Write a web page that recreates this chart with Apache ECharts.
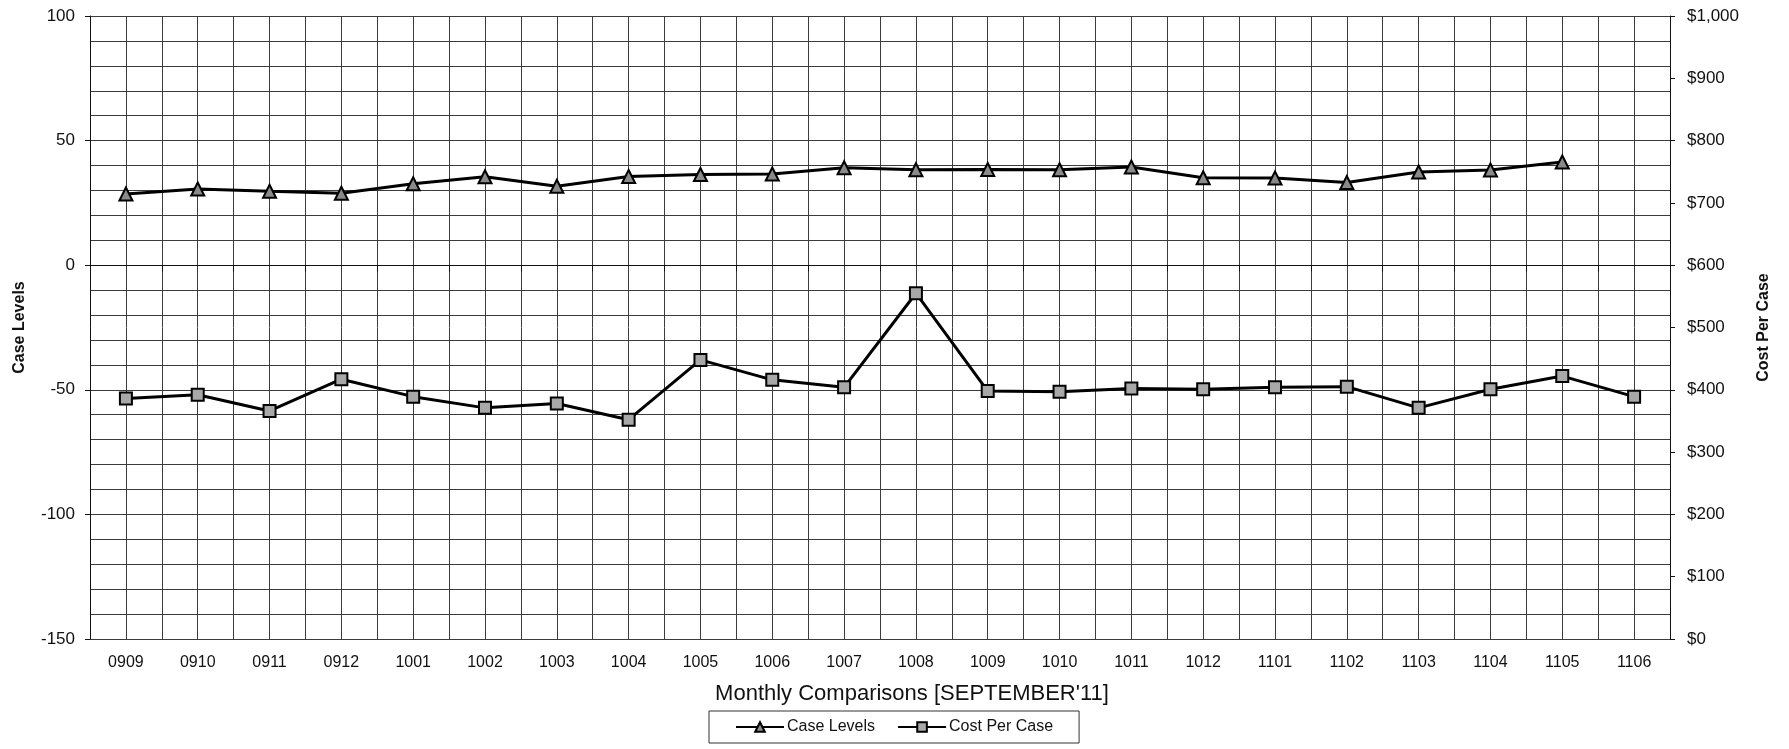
<!DOCTYPE html>
<html>
<head>
<meta charset="utf-8">
<script src="https://cdn.jsdelivr.net/npm/echarts@6/dist/echarts.min.js"></script>
<style>
html,body{margin:0;padding:0;background:#fff;}
#chart{width:1789px;height:749px;}
</style>
</head>
<body>
<div id="chart"></div>
<script>
var categories = ['0909','0910','0911','0912','1001','1002','1003','1004','1005','1006','1007','1008','1009','1010','1011','1012','1101','1102','1103','1104','1105','1106'];
var caseLevels = [28.6, 30.6, 29.7, 28.9, 32.7, 35.5, 31.7, 35.6, 36.4, 36.6, 39.1, 38.3, 38.4, 38.3, 39.4, 35.1, 35.0, 33.2, 37.4, 38.2, 41.4, null];
var costPerCase = [386, 392, 366, 417, 389, 371, 378, 352, 448, 416, 404, 555, 398, 397, 402, 401, 404, 405, 371, 401, 422, 389];
var leftTicks = {min: -150, max: 100, interval: 50};
var rightTicks = {min: 0, max: 1000, interval: 100};
var xTitle = "Monthly Comparisons [SEPTEMBER'11]";

var FONT = '"Liberation Sans", Arial, sans-serif';
var gridColor = '#3c3c3c';
var chart = echarts.init(document.getElementById('chart'));
chart.setOption({
  animation: false,
  backgroundColor: '#fff',
  textStyle: {fontFamily: FONT, color: '#111'},
  grid: {left: 90, right: 119, top: 16, bottom: 110, containLabel: false},
  legend: {
    left: 709, top: 711,
    padding: [8, 26, 8, 26],
    itemGap: 22, itemWidth: 48, itemHeight: 12,
    borderColor: '#333', borderWidth: 1,
    textStyle: {fontFamily: FONT, fontSize: 16, color: '#111', padding: [0, 0, 0, -2]},
    data: ['Case Levels', 'Cost Per Case']
  },
  graphic: [{
    type: 'text', x: 912, y: 694,
    style: {text: xTitle, font: '22px ' + FONT, fill: '#111', textAlign: 'center', textVerticalAlign: 'middle'}
  }],
  xAxis: [{
    type: 'category', data: categories, boundaryGap: true,
    axisLine: {show: true, lineStyle: {color: '#111', width: 1}},
    axisTick: {show: true, length: 6, lineStyle: {color: '#111'}},
    axisLabel: {fontSize: 16, color: '#111', margin: 16, fontFamily: FONT},
    splitLine: {show: false}
  }, {
    type: 'value', min: 0, max: categories.length * 2, interval: 1, position: 'bottom',
    axisLine: {show: false}, axisTick: {show: false}, axisLabel: {show: false},
    splitLine: {show: true, lineStyle: {color: gridColor, width: 1}}
  }],
  yAxis: [{
    type: 'value', min: leftTicks.min, max: leftTicks.max, interval: leftTicks.interval, position: 'left',
    name: 'Case Levels', nameLocation: 'middle', nameGap: 62, nameRotate: 90,
    nameTextStyle: {fontSize: 16, fontWeight: 'bold', color: '#111', fontFamily: FONT},
    axisLine: {show: true, lineStyle: {color: '#111', width: 1}},
    axisTick: {show: true, length: 5, lineStyle: {color: '#111'}},
    axisLabel: {fontSize: 17, color: '#111', margin: 15, fontFamily: FONT},
    splitLine: {show: true, lineStyle: {color: gridColor, width: 1}},
    minorTick: {show: false, splitNumber: 5},
    minorSplitLine: {show: true, lineStyle: {color: gridColor, width: 1}}
  }, {
    type: 'value', min: rightTicks.min, max: rightTicks.max, interval: rightTicks.interval, position: 'right',
    name: 'Cost Per Case', nameLocation: 'middle', nameGap: 86, nameRotate: 90,
    nameTextStyle: {fontSize: 16, fontWeight: 'bold', color: '#111', fontFamily: FONT},
    axisLine: {show: true, lineStyle: {color: '#111', width: 1}},
    axisTick: {show: true, length: 5, lineStyle: {color: '#111'}},
    axisLabel: {fontSize: 17, color: '#111', margin: 17, fontFamily: FONT,
      formatter: function (v) { return '$' + v.toLocaleString('en-US'); }},
    splitLine: {show: false}
  }],
  series: [{
    name: 'Case Levels', type: 'line', xAxisIndex: 0, yAxisIndex: 0,
    data: caseLevels, symbol: 'triangle', symbolSize: 13, showAllSymbol: true,
    lineStyle: {color: '#000', width: 3},
    itemStyle: {color: '#8a8a8a', borderColor: '#000', borderWidth: 2}
  }, {
    name: 'Cost Per Case', type: 'line', xAxisIndex: 0, yAxisIndex: 1,
    data: costPerCase, symbol: 'rect', symbolSize: 12, showAllSymbol: true,
    lineStyle: {color: '#000', width: 3},
    itemStyle: {color: '#a8a8a8', borderColor: '#000', borderWidth: 2}
  }]
});
</script>
</body>
</html>
